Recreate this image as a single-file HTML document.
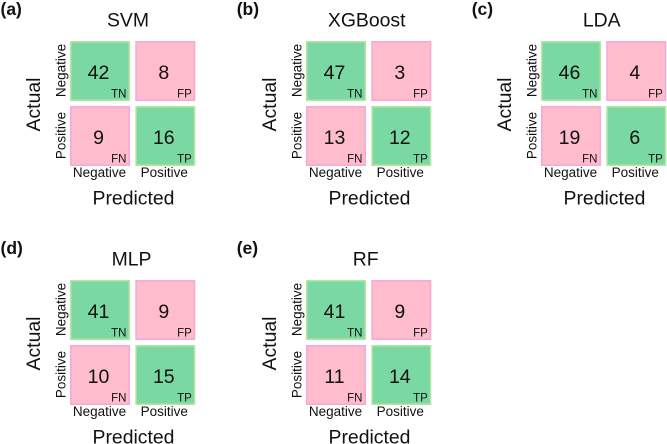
<!DOCTYPE html>
<html>
<head>
<meta charset="utf-8">
<title>Confusion matrices</title>
<style>
html,body{margin:0;padding:0;background:#fff;width:667px;height:444px;overflow:hidden}
svg{display:block;filter:blur(0.3px)}
text{font-family:"Liberation Sans",sans-serif;fill:#111}
</style>
</head>
<body>
<svg id="chart" width="667" height="444" viewBox="0 0 667 444" xmlns="http://www.w3.org/2000/svg"></svg>
<script>
const panelLetters = ['(a)', '(b)', '(c)', '(d)', '(e)'];
const modelNames = ['SVM', 'XGBoost', 'LDA', 'MLP', 'RF'];
const tnValues = [42, 47, 46, 41, 41];
const fpValues = [8, 3, 4, 9, 9];
const fnValues = [9, 13, 19, 10, 11];
const tpValues = [16, 12, 6, 15, 14];
const classLabels = ['Negative', 'Positive'];
const cellCodes = [['TN', 'FP'], ['FN', 'TP']];

const svg = document.getElementById('chart');
const NS = 'http://www.w3.org/2000/svg';
const GREEN = '#7ad9a2', GREEN_EDGE = '#b6e5a0', PINK = '#ffbccd', PINK_EDGE = '#f6a9d6';

function panelX(i) { return [0, 236, 471, 0, 236][i]; }
function panelY(i) { return i < 3 ? 0 : 239; }
function titleShift(i) { return [128, 130.7, 130.7, 131.5, 129.7][i]; }
function colX(c) { return 70 + c * 65.3; }
function rowY(r) { return 41 + r * 65; }

function addText(parent, str, x, y, size, anchor, weight, rot) {
  const t = document.createElementNS(NS, 'text');
  t.setAttribute('x', x);
  t.setAttribute('y', y);
  t.setAttribute('font-size', size);
  t.setAttribute('text-anchor', anchor);
  if (weight) t.setAttribute('font-weight', weight);
  if (rot) t.setAttribute('transform', 'rotate(-90 ' + x + ' ' + y + ')');
  t.textContent = str;
  parent.appendChild(t);
  return t;
}

modelNames.forEach(function (name, i) {
  const g = document.createElementNS(NS, 'g');
  
  
  g.setAttribute('transform', 'translate(' + panelX(i) + ',' + panelY(i) + ')');
  svg.appendChild(g);

  const letter = addText(g, panelLetters[i], i === 0 || i === 3 ? 0.5 : 0.7, 15, 17.5, 'start', 'bold');
  
  

  const title = addText(g, name, titleShift(i), 26.5, 19.4, 'middle');
  
  

  const matrix = [[tnValues[i], fpValues[i]], [fnValues[i], tpValues[i]]];
  matrix.forEach(function (row, r) {
    row.forEach(function (value, c) {
      const correct = r === c;
      const rect = document.createElementNS(NS, 'rect');
      rect.setAttribute('x', colX(c) + 0.75);
      rect.setAttribute('y', rowY(r) + 0.75);
      rect.setAttribute('width', 58.5);
      rect.setAttribute('height', 58.5);
      rect.setAttribute('fill', correct ? GREEN : PINK);
      rect.setAttribute('stroke', correct ? GREEN_EDGE : PINK_EDGE);
      rect.setAttribute('stroke-width', 1.5);
      
      
      g.appendChild(rect);

      const num = addText(g, value, colX(c) + 28.5, rowY(r) + 38, 19.5, 'middle');
      
      

      const code = addText(g, cellCodes[r][c], colX(c) + 56.5, rowY(r) + 56.5, 11.5, 'end');
      
      
    });
  });

  classLabels.forEach(function (label, k) {
    const xt = addText(g, label, colX(k) + 29.5 - k * 0.5, 177, 13.5, 'middle');
    
    

    const yt = addText(g, label, 65.5, rowY(k) + 29.5, 13.5, 'middle', null, true);
    
    
  });

  const xTitle = addText(g, 'Predicted', 133.5, 204.5, 19.4, 'middle');
  
  

  const yTitle = addText(g, 'Actual', 40, 104.5, 19.4, 'middle', null, true);
  
  
});
</script>
</body>
</html>
